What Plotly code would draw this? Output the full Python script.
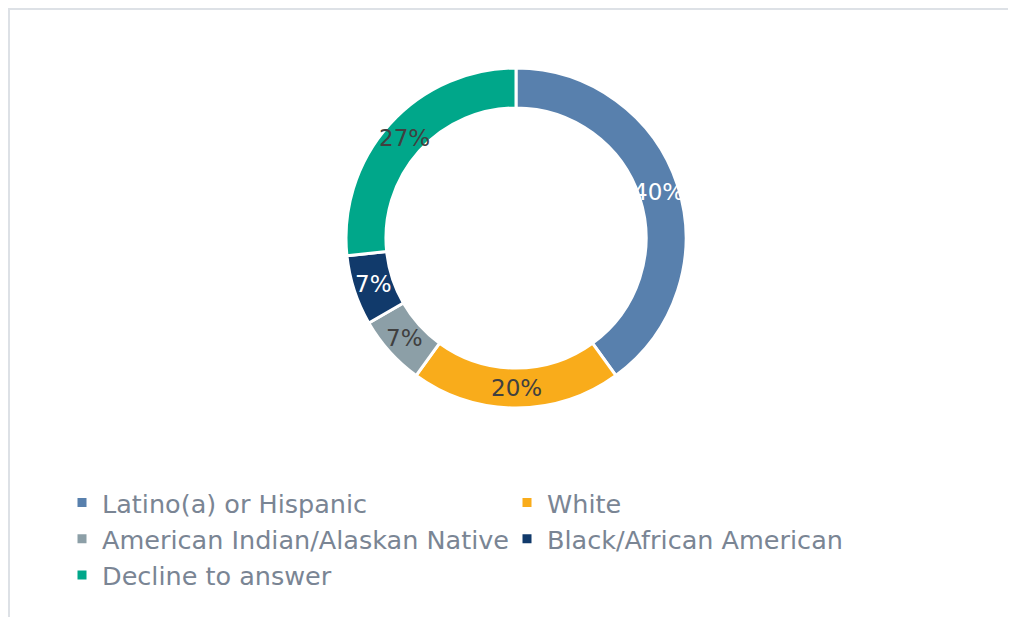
import math
import plotly.graph_objects as go

# Data
categories = ["Latino(a) or Hispanic", "White", "American Indian/Alaskan Native",
              "Black/African American", "Decline to answer"]
counts = [6, 3, 1, 1, 4]
colors = ["#5880AD", "#F9AC1B", "#8C9FA7", "#113A6B", "#00A78A"]
label_colors = ["#FFFFFF", "#404040", "#404040", "#FFFFFF", "#404040"]

# page offset (browser body margin) is 8px
OFF = 8
W, H = 1016 - OFF, 617 - OFF
cx, cy, R = 516 - OFF, 238 - OFF, 170
HOLE = 0.765

fig = go.Figure(go.Pie(
    labels=categories,
    values=counts,
    sort=False,
    direction="clockwise",
    rotation=0,
    hole=HOLE,
    marker=dict(colors=colors, line=dict(color="white", width=3)),
    textinfo="none",
    domain=dict(x=[(cx - R) / W, (cx + R) / W], y=[1 - (cy + R) / H, 1 - (cy - R) / H]),
    showlegend=True,
))

# percentage labels at the middle of each ring segment (derived from the data)
total = sum(counts)
rmid = R * (1 + HOLE) / 2
annotations = []
cum = 0
for v, col in zip(counts, label_colors):
    mid = (cum + v / 2) / total * 2 * math.pi
    cum += v
    px = cx + rmid * math.sin(mid)
    py = cy - rmid * math.cos(mid)
    annotations.append(dict(
        x=px / W, y=1 - py / H, xref="paper", yref="paper",
        text=f"{round(100 * v / total)}%", showarrow=False,
        xanchor="center", yanchor="middle",
        font=dict(family="DejaVu Sans", size=23, color=col),
    ))

fig.update_layout(
    width=W, height=H,
    margin=dict(l=0, r=0, t=0, b=0),
    paper_bgcolor="white",
    plot_bgcolor="white",
    annotations=annotations,
    legend=dict(
        orientation="h",
        x=54 / W, xanchor="left",
        y=1 - (539 - OFF) / H, yanchor="middle",
        entrywidth=400, entrywidthmode="pixels",
        font=dict(family="DejaVu Sans", size=25.5, color="#7A8594"),
        bgcolor="rgba(0,0,0,0)",
        traceorder="normal",
    ),
    shapes=[
        dict(type="line", xref="paper", yref="paper",
             x0=0, x1=1.0, y0=1 - 1 / H, y1=1 - 1 / H,
             line=dict(color="#DDE1E6", width=2)),
        dict(type="line", xref="paper", yref="paper",
             x0=1 / W, x1=1 / W, y0=1, y1=0,
             line=dict(color="#DDE1E6", width=2)),
    ],
)

fig.write_html("out.html")
